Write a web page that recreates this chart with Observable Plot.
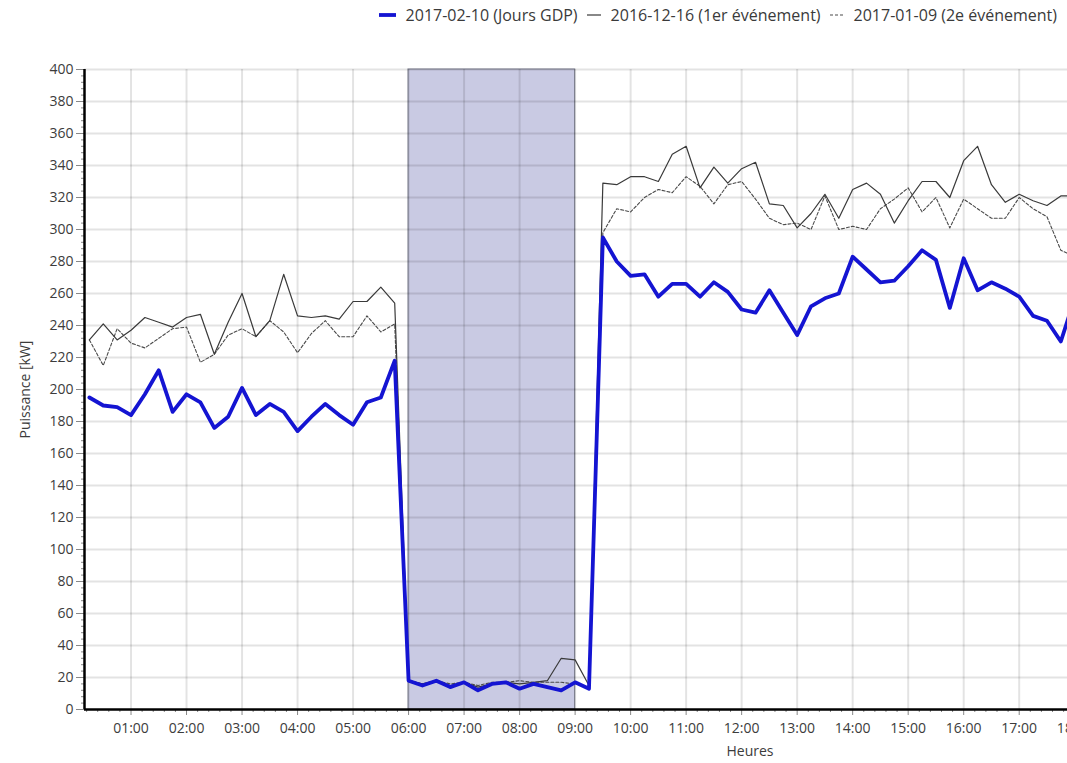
<!DOCTYPE html>
<html>
<head>
<meta charset="utf-8">
<script src="https://cdn.jsdelivr.net/npm/d3@7"></script>
<script src="https://cdn.jsdelivr.net/npm/@observablehq/plot@0.6"></script>
<style>
  html, body { margin: 0; padding: 0; background: #fff; overflow: hidden; }
  body { width: 1067px; height: 763px; font-family: "Open Sans", "DejaVu Sans", sans-serif; }
  #legend { height: 30px; display: flex; justify-content: flex-end; align-items: center; padding-right: 10px; font-size: 16px; color: #3a3a3a; }
  .item { display: flex; align-items: center; margin-left: 9px; }
  .item svg { margin-right: 10px; }
  #chart svg { display: block; }
</style>
</head>
<body>
<div id="legend"></div>
<div id="chart"></div>
<script>
// Series names
const seriesNames = ["2017-02-10 (Jours GDP)", "2016-12-16 (1er événement)", "2017-01-09 (2e événement)"];
// Time of first sample (hours) and step (15 min)
const firstTime = 0.25;
const stepHours = 0.25;
// 2017-02-10 (Jours GDP) — kW, 00:15 .. 18:00
const gdp = [195,190,189,184,197,212,186,197,192,176,183,201,184,191,186,174,183,191,184,178,192,195,218,
  18,15,18,14,17,12,16,17,13,16,14,12,17,13,
  295,280,271,272,258,266,266,258,267,261,250,248,262,248,234,252,257,260,283,275,267,268,277,287,281,251,282,262,267,263,258,246,243,230,257];
// 2016-12-16 (1er événement)
const event1 = [231,241,231,237,245,242,239,245,247,222,242,260,233,243,272,246,245,246,244,255,255,264,254,
  18,16,18,15,17,14,16,17,16,17,18,32,31,15,
  329,328,333,333,330,347,352,326,339,329,338,342,316,315,301,310,322,307,325,329,322,304,318,330,330,320,343,352,328,317,322,318,315,321,321];
// 2017-01-09 (2e événement)
const event2 = [231,215,238,229,226,232,238,239,217,222,234,238,233,243,236,223,235,243,233,233,246,236,241,
  18,16,18,16,17,15,17,17,18,17,17,17,16,14,
  298,313,311,320,325,323,333,327,316,328,330,319,307,303,304,300,321,300,302,300,313,319,326,311,320,301,319,313,307,307,320,313,308,287,283];
// Highlighted period (hours)
const highlight = [{start: 6, end: 9}];
// Axis ticks
const hourTicks = d3.range(1, 19);
const powerTicks = d3.range(0, 401, 20);
const xDomain = [0.162, 17.87];
const yDomain = [0, 400];

const colors = ["#1414d2", "#3a3a3a", "#4a4a4a"];

function toRows(values) {
  return values.map((v, i) => ({t: firstTime + i * stepHours, v}));
}
const rowsGdp = toRows(gdp), rowsE1 = toRows(event1), rowsE2 = toRows(event2);

// Legend
const legend = document.getElementById("legend");
const swatches = [
  `<svg width="17" height="10"><line x1="0" y1="5" x2="17" y2="5" stroke="${colors[0]}" stroke-width="3.8"/></svg>`,
  `<svg width="14" height="10"><line x1="0" y1="5" x2="14" y2="5" stroke="${colors[1]}" stroke-width="1.2"/></svg>`,
  `<svg width="14" height="10"><line x1="0" y1="5" x2="14" y2="5" stroke="${colors[2]}" stroke-width="1.2" stroke-dasharray="3,2"/></svg>`
];
seriesNames.forEach((name, i) => {
  const d = document.createElement("div");
  d.className = "item";
  d.innerHTML = swatches[i] + `<span>${name}</span>`;
  legend.appendChild(d);
});

const minorY = d3.range(0, 401, 4).filter(d => d % 20 !== 0);
const minorX = d3.range(0, 18.01, 0.2).filter(d => Math.abs(d - Math.round(d)) > 1e-6 && d > xDomain[0]);

const plot = Plot.plot({
  width: 1067,
  height: 733,
  marginLeft: 84,
  marginRight: 0,
  marginTop: 39,
  marginBottom: 54,
  style: {fontFamily: "'Open Sans', 'DejaVu Sans', sans-serif", fontSize: "14px", color: "#3c3c3c", background: "#fff", overflow: "visible"},
  x: {domain: xDomain},
  y: {domain: yDomain},
  marks: [
    Plot.rect(highlight, {x1: "start", x2: "end", y1: yDomain[0], y2: yDomain[1], fill: "#c9cae3", stroke: "#8a8c9c", strokeWidth: 1.2}),
    Plot.gridX({ticks: hourTicks.filter(h => h < xDomain[1]), stroke: "#000", strokeOpacity: 0.11, strokeWidth: 2}),
    Plot.gridY({ticks: powerTicks.filter(p => p > 0), stroke: "#000", strokeOpacity: 0.11, strokeWidth: 2}),
    Plot.axisY({ticks: minorY, tickSize: 3, text: null, label: null, stroke: "#888"}),
    Plot.axisY({ticks: powerTicks, tickSize: 8, tickPadding: 3, stroke: "#888", label: "Puissance [kW]", labelAnchor: "center", labelOffset: 64, labelArrow: "none"}),
    Plot.axisX({ticks: minorX, tickSize: 3, text: null, label: null, stroke: "#888"}),
    Plot.axisX({ticks: hourTicks, tickSize: 6, tickPadding: 8, stroke: "#888", tickFormat: h => String(h).padStart(2, "0") + ":00", label: null}),
    Plot.text(["Heures"], {frameAnchor: "bottom", dx: 174, dy: 46, fill: "#3c3c3c", fontSize: 14}),
    Plot.line(rowsE2, {x: "t", y: "v", stroke: colors[2], strokeWidth: 1.1, strokeDasharray: "3,2", clip: true}),
    Plot.line(rowsE1, {x: "t", y: "v", stroke: colors[1], strokeWidth: 1.2, clip: true}),
    Plot.line(rowsGdp, {x: "t", y: "v", stroke: colors[0], strokeWidth: 3.8, strokeLinejoin: "round", clip: true}),
    Plot.ruleY([yDomain[0]], {stroke: "#000", strokeWidth: 2.5}),
    Plot.ruleX([xDomain[0]], {stroke: "#000", strokeWidth: 2.5})
  ]
});
document.getElementById("chart").appendChild(plot);
</script>
</body>
</html>
